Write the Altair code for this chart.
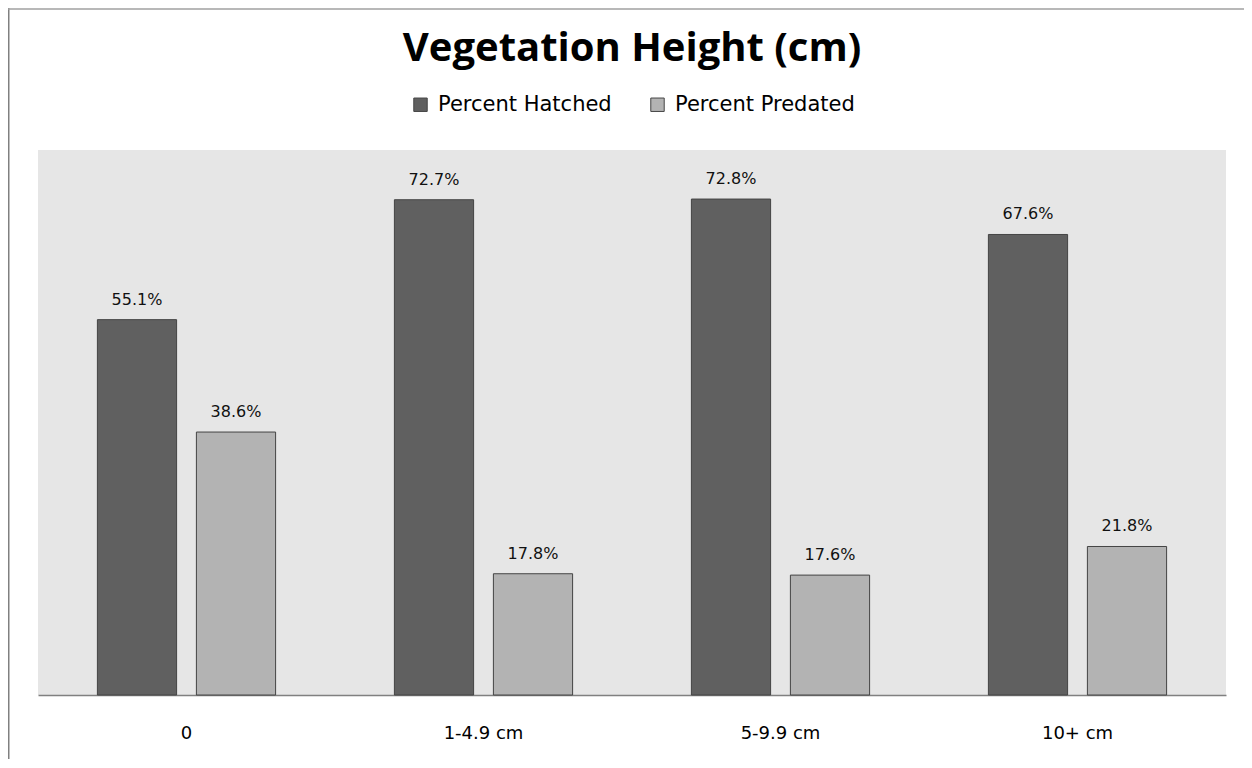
import altair as alt
import pandas as pd

categories = ["0", "1-4.9 cm", "5-9.9 cm", "10+ cm"]
series = ["Percent Hatched", "Percent Predated"]
hatched = [55.1, 72.7, 72.8, 67.6]
predated = [38.6, 17.8, 17.6, 21.8]
colors = ["#606060", "#b3b3b3"]

rows = []
for c, h, p in zip(categories, hatched, predated):
    rows.append({"cat": c, "series": series[0], "value": h, "label": f"{h:.1f}%"})
    rows.append({"cat": c, "series": series[1], "value": p, "label": f"{p:.1f}%"})
df = pd.DataFrame(rows)

W, H = 1188, 545
PL, PT, PR, PB = 30, 142, 18, 64

x = alt.X("cat:N", sort=categories, title=None,
          scale=alt.Scale(paddingInner=0.4, paddingOuter=0.2),
          axis=alt.Axis(labelAngle=0, ticks=False, domainColor="#808080", domainWidth=1.5,
                        labelFont="DejaVu Sans", labelFontSize=18, labelColor="#000000",
                        labelPadding=29, labelBaseline="top"))
xo = alt.XOffset("series:N", sort=series, scale=alt.Scale(paddingInner=0.2, paddingOuter=0))
y = alt.Y("value:Q", scale=alt.Scale(domain=[0, 80], nice=False, zero=True), axis=None)

base = alt.Chart(df)

bars = base.mark_bar(stroke="#444444", strokeWidth=1).encode(
    x=x, xOffset=xo, y=y,
    color=alt.Color("series:N", sort=series, scale=alt.Scale(domain=series, range=colors),
                    legend=alt.Legend(title=None, orient="none", legendX=372, legendY=-56,
                                      direction="horizontal", symbolType="square",
                                      symbolSize=180, symbolStrokeColor="#444444",
                                      symbolStrokeWidth=1, labelFont="DejaVu Sans",
                                      labelFontSize=21, labelColor="#000000", labelLimit=400,
                                      labelOffset=7, columnPadding=35, padding=0)),
)

labels = base.mark_text(font="DejaVu Sans", fontSize=16, color="#111111",
                        baseline="alphabetic", dy=-15).encode(
    x=x, xOffset=xo, y=y, text="label:N")

border_left = alt.Chart(pd.DataFrame({"k": [0]})).mark_rule(color="#808080", strokeWidth=3).encode(
    x=alt.value(-30), y=alt.value(-142), y2=alt.value(H + PB + 20))
border_top = alt.Chart(pd.DataFrame({"k": [0]})).mark_rule(color="#a0a0a0", strokeWidth=1.5).encode(
    x=alt.value(-30), x2=alt.value(W + PR + 10), y=alt.value(-141))

chart = alt.layer(bars, labels, border_left, border_top).properties(
    width=W, height=H,
    title=alt.TitleParams("Vegetation Height (cm)", font="Open Sans", fontSize=40, fontWeight="bold",
                          color="#000000", anchor="middle", offset=-62),
    autosize=alt.AutoSizeParams(type="none"),
    padding={"left": PL, "top": PT, "right": PR, "bottom": PB},
).configure(background="white", view=alt.ViewConfig(fill="#e6e6e6", stroke=None))

chart.save("out.html", embed_options={"renderer": "svg", "actions": False})
